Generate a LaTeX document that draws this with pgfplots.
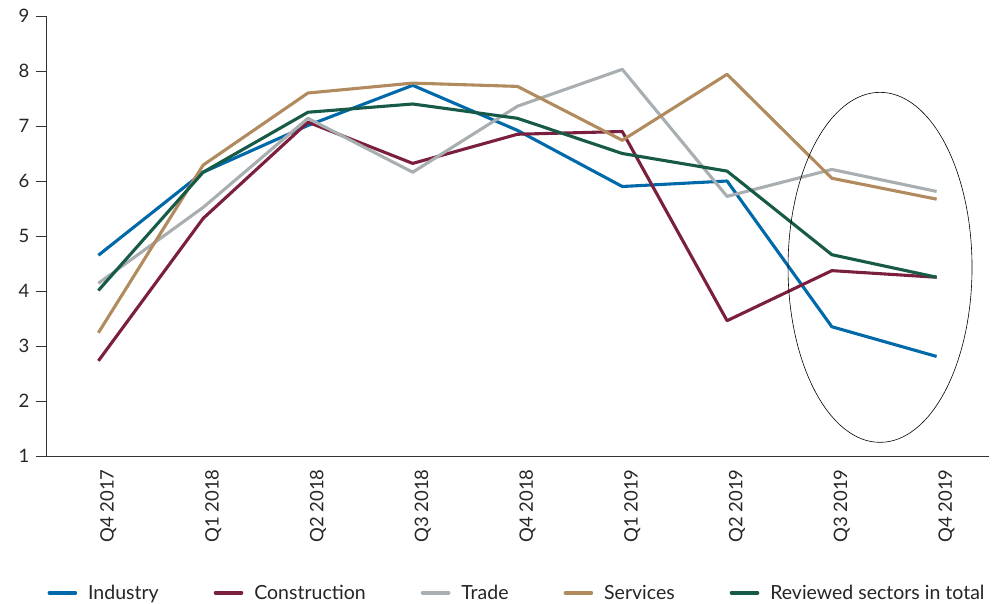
\documentclass[border=0pt]{standalone}
\usepackage{pgfplots}
\pgfplotsset{compat=1.18}
\usepackage{fontspec}
\setmainfont{Lato}

\definecolor{cIndustry}{HTML}{0069AA}
\definecolor{cConstr}{HTML}{7A1F3D}
\definecolor{cTrade}{HTML}{A8AEB1}
\definecolor{cServ}{HTML}{B18B5E}
\definecolor{cTotal}{HTML}{165A47}
\definecolor{axisgray}{HTML}{333333}

\begin{document}
\begin{tikzpicture}
\path[use as bounding box] (-46pt,-148pt) rectangle (952pt,456pt);
\begin{axis}[
  at={(0pt,0pt)}, anchor=south west,
  scale only axis, width=943pt, height=440pt,
  xmin=-0.5, xmax=8.5, ymin=1, ymax=9,
  axis x line*=bottom, axis y line*=left,
  axis line style={axisgray, line width=0.8pt},
  every tick/.style={axisgray, line width=0.8pt},
  tick align=outside,
  ytick={1,...,9},
  major tick length=10pt,
  xtick={0,...,8},
  xticklabels={Q4 2017,Q1 2018,Q2 2018,Q3 2018,Q4 2018,Q1 2019,Q2 2019,Q3 2019,Q4 2019},
  x tick style={draw=none},
  minor xtick={-0.5,0.5,...,8.5},
  minor tick length=8pt,
  minor x tick style={axisgray, line width=0.8pt},
  xticklabel style={rotate=90, anchor=east, yshift=-10pt},
  yticklabel style={xshift=-3pt},
  ticklabel style={font=\fontsize{18.5}{21}\selectfont, text=black!85},
  /pgf/number format/assume math mode=true,
  legend columns=5,
  legend style={draw=none, at={(0.4995,-0.311)}, anchor=center,
    font=\fontsize{19.5}{22}\selectfont, text=black!85,
    /tikz/every odd column/.append style={column sep=9pt},
    /tikz/every even column/.append style={column sep=53pt}},
  legend image code/.code={\draw[#1, line width=3.6pt, line cap=round] (0pt,0pt) -- (26pt,0pt);},
  every axis plot/.append style={line width=3.1pt, line join=round},
  clip=false,
]
\addplot[cIndustry] coordinates {(0,4.65) (1,6.16) (2,7.01) (3,7.74) (4,6.92) (5,5.90) (6,6.00) (7,3.35) (8,2.81)};
\addlegendentry{Industry}
\addplot[cConstr] coordinates {(0,2.73) (1,5.32) (2,7.07) (3,6.32) (4,6.85) (5,6.90) (6,3.46) (7,4.37) (8,4.25)};
\addlegendentry{Construction}
\addplot[cTrade] coordinates {(0,4.14) (1,5.52) (2,7.14) (3,6.16) (4,7.36) (5,8.03) (6,5.72) (7,6.21) (8,5.81)};
\addlegendentry{Trade}
\addplot[cServ] coordinates {(0,3.24) (1,6.29) (2,7.60) (3,7.78) (4,7.72) (5,6.74) (6,7.94) (7,6.05) (8,5.67)};
\addlegendentry{Services}
\addplot[cTotal] coordinates {(0,4.01) (1,6.16) (2,7.25) (3,7.40) (4,7.14) (5,6.50) (6,6.18) (7,4.66) (8,4.25)};
\addlegendentry{Reviewed sectors in total}
% highlight of the latest two quarters
\draw[black, line width=0.6pt] (axis cs:7.46,4.43) ellipse [x radius=92pt, y radius=175pt];
\end{axis}
\end{tikzpicture}
\end{document}
